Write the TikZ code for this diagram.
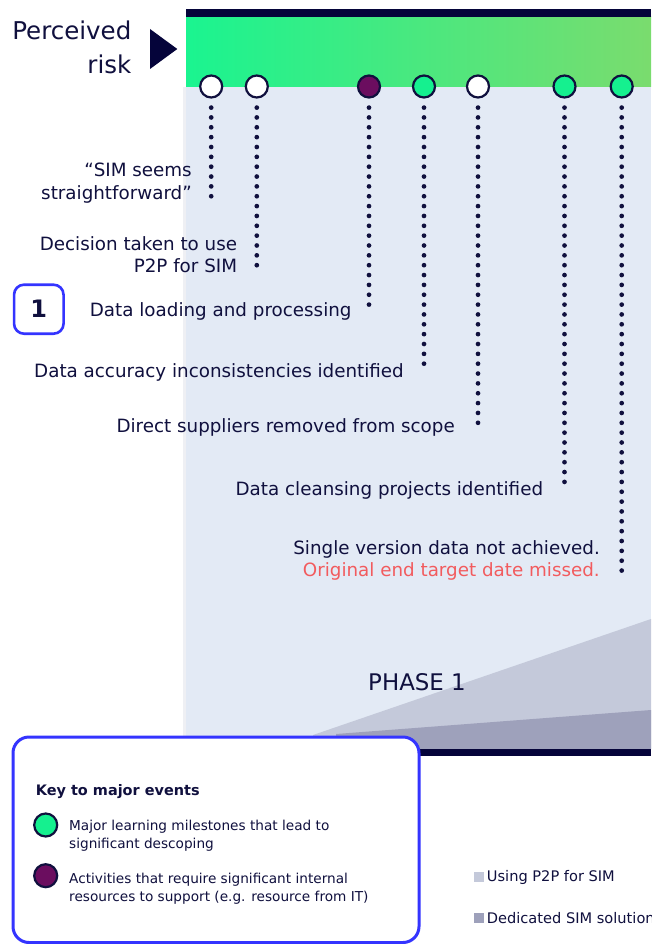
\documentclass[tikz,border=0pt]{standalone}
\usepackage{fontspec}
\setmainfont{DejaVu Sans}
\definecolor{navy}{HTML}{10103E}
\definecolor{barnavy}{HTML}{05043A}
\definecolor{gleft}{HTML}{1AF490}
\definecolor{gright}{HTML}{7ADC6E}
\definecolor{panel}{HTML}{E3EAF5}
\definecolor{pstrip}{HTML}{EFF0F4}
\definecolor{ptl}{HTML}{6B0D5F}
\definecolor{mgreen}{HTML}{15F08F}
\definecolor{redtxt}{HTML}{F25B5E}
\definecolor{tlight}{HTML}{C4C9DA}
\definecolor{tdark}{HTML}{9EA1BB}
\definecolor{keyblue}{HTML}{3434FF}
\begin{document}
\begin{tikzpicture}[x=1pt,y=-1pt,
  ev/.style={circle,draw=navy,line width=2.2pt,minimum size=22pt,inner sep=0pt},
  dotline/.style={navy,line width=4.7pt,line cap=round,dash pattern=on 0pt off 9.85pt},
  lbl/.style={text=navy,inner sep=0pt,anchor=base east,font=\fontsize{18.3}{22}\selectfont},
  keytxt/.style={text=navy,inner sep=0pt,anchor=base west,font=\fontsize{13.65}{17}\selectfont},
  legtxt/.style={text=navy,inner sep=0pt,anchor=base west,font=\fontsize{14.6}{17}\selectfont},
  legsq/.style={minimum size=10pt,inner sep=0pt},
]
\useasboundingbox (0,0) rectangle (651,944);
\fill[white] (0,0) rectangle (651,944);
% panel and band
\fill[panel] (186,87) rectangle (651,749);
\fill[pstrip] (183,87) rectangle (186,749);
\shade[left color=gleft,right color=gright] (186,16.5) rectangle (651,87);
\fill[barnavy] (186,9) rectangle (651,17);
% phase wedges
\fill[tlight] (313,735) -- (651,619) -- (651,749) -- (313,749) -- cycle;
\fill[tdark] (336,734) -- (651,710) -- (651,749) -- (336,749) -- cycle;
\fill[barnavy] (186,749) rectangle (651,756);
\node[text=navy,inner sep=0pt,anchor=base,font=\fontsize{22.9}{27}\selectfont] (phase) at (417,690) {PHASE 1};
% perceived risk
\node[text=navy,inner sep=0pt,anchor=base east,font=\fontsize{24.5}{28}\selectfont] (pr1) at (131.5,39.3) {Perceived};
\node[text=navy,inner sep=0pt,anchor=base east,font=\fontsize{24.5}{28}\selectfont] (pr2) at (131.5,73.3) {risk};
\fill[barnavy] (150,29) -- (177.3,49) -- (150,69) -- cycle;
% event circles
\node[ev,fill=white] (c1) at (211.2,86.5) {};
\node[ev,fill=white] (c2) at (256.8,86.5) {};
\node[ev,fill=ptl]   (c3) at (369,86.5) {};
\node[ev,fill=mgreen](c4) at (424,86.5) {};
\node[ev,fill=white] (c5) at (478,86.5) {};
\node[ev,fill=mgreen](c6) at (564.5,86.5) {};
\node[ev,fill=mgreen](c7) at (621.7,86.5) {};
% dotted line ends
\coordinate (e1) at (211.2,196.7);
\coordinate (e2) at (256.8,270);
\coordinate (e3) at (369,313.3);
\coordinate (e4) at (424,373.3);
\coordinate (e5) at (478,427.7);
\coordinate (e6) at (564.5,491.7);
\coordinate (e7) at (621.7,575.7);
\foreach \i in {1,...,7}{
  \draw[dotline] ([yshift=-9pt]c\i.south) -- (e\i);
}
% labels
\node[lbl] (t1a) at (192,177) {“SIM seems};
\node[lbl] (t1b) at (192,200) {straightforward”};
\node[lbl] (t2a) at (237.3,250.7) {Decision taken to use};
\node[lbl] (t2b) at (237.3,272.7) {P2P for SIM};
\node[lbl] (t3) at (351.7,316) {Data loading and processing};
\node[lbl] (t4) at (404,377.7) {Data accuracy inconsistencies identified};
\node[lbl] (t5) at (455,432.3) {Direct suppliers removed from scope};
\node[lbl] (t6) at (543.3,495) {Data cleansing projects identified};
\node[lbl] (t7a) at (600,554.3) {Single version data not achieved.};
\node[lbl,text=redtxt] (t7b) at (600,576.7) {Original end target date missed.};
% phase number box
\node[draw=keyblue,line width=2.6pt,rounded corners=10pt,minimum width=49.5pt,minimum height=49pt,inner sep=0pt,text=navy,font=\fontsize{24}{28}\selectfont\bfseries] (num) at (38.8,309.2) {1};
% key box
\draw[keyblue,line width=3pt,rounded corners=16pt,fill=white] (13,737) rectangle (419,942.5);
\node[text=navy,inner sep=0pt,anchor=base west,font=\fontsize{14.45}{17}\selectfont\bfseries] (keyt) at (35.7,795) {Key to major events};
\node[ev,fill=mgreen,minimum size=23pt] (kg) at (45.7,825) {};
\node[ev,fill=ptl,minimum size=23pt] (kp) at (45.7,875.7) {};
\node[keytxt] (k1a) at (69,830) {Major learning milestones that lead to};
\node[keytxt] (k1b) at (69,848.3) {significant descoping};
\node[keytxt] (k2a) at (69,883.7) {Activities that require significant internal};
\node[keytxt] (k2b) at (69,901.3) {resources to support (e.g. resource from IT)};
% legend
\node[legsq,fill=tlight] (sq1) at (479.3,876.7) {};
\node[legtxt] (lg1) at (486.7,881.7) {Using P2P for SIM};
\node[legsq,fill=tdark] (sq2) at (479.3,918) {};
\node[legtxt] (lg2) at (486.7,923) {Dedicated SIM solution};
\end{tikzpicture}
\end{document}
